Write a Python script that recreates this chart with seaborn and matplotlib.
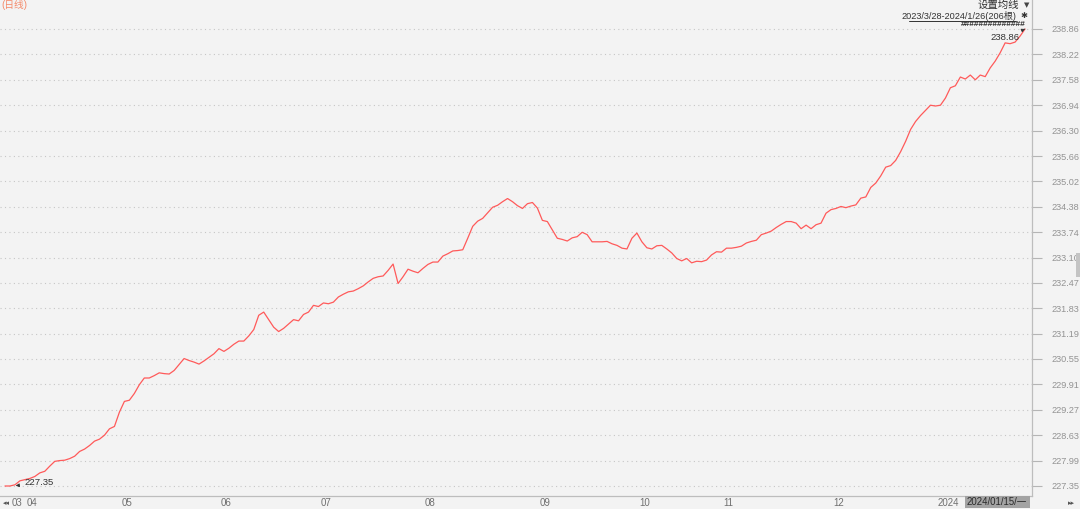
import matplotlib
matplotlib.use("Agg")
import matplotlib.pyplot as plt
import matplotlib.transforms as mtransforms
from matplotlib.patches import Rectangle
import pandas as pd
import seaborn as sns

# 日线收盘价 2023/3/28 - 2024/1/26 (206根)
price = [
    227.35, 227.35, 227.38, 227.48, 227.51, 227.54, 227.59, 227.68, 227.72, 227.85,
    227.97, 227.99, 228.00, 228.04, 228.10, 228.22, 228.28, 228.37, 228.48, 228.53,
    228.63, 228.79, 228.85, 229.21, 229.48, 229.51, 229.68, 229.90, 230.07, 230.07,
    230.13, 230.20, 230.18, 230.17, 230.26, 230.41, 230.56, 230.51, 230.47, 230.42,
    230.50, 230.59, 230.68, 230.81, 230.74, 230.82, 230.92, 231.00, 231.00, 231.13,
    231.29, 231.65, 231.73, 231.54, 231.35, 231.24, 231.32, 231.43, 231.54, 231.51,
    231.67, 231.73, 231.90, 231.87, 231.96, 231.94, 231.98, 232.11, 232.18, 232.24,
    232.26, 232.32, 232.39, 232.49, 232.58, 232.62, 232.64, 232.78, 232.94, 232.45,
    232.62, 232.81, 232.76, 232.72, 232.83, 232.93, 232.99, 232.99, 233.14, 233.20,
    233.27, 233.28, 233.30, 233.59, 233.89, 234.02, 234.09, 234.23, 234.37, 234.42,
    234.51, 234.59, 234.51, 234.41, 234.34, 234.46, 234.49, 234.35, 234.04, 234.01,
    233.80, 233.59, 233.56, 233.52, 233.60, 233.63, 233.74, 233.68, 233.50, 233.50,
    233.50, 233.51, 233.45, 233.41, 233.34, 233.32, 233.59, 233.72, 233.50, 233.35,
    233.32, 233.40, 233.41, 233.32, 233.22, 233.08, 233.02, 233.08, 232.97, 233.01,
    233.00, 233.04, 233.17, 233.25, 233.24, 233.34, 233.34, 233.36, 233.39, 233.47,
    233.51, 233.54, 233.68, 233.72, 233.77, 233.86, 233.94, 234.01, 234.01, 233.97,
    233.83, 233.92, 233.83, 233.93, 233.97, 234.22, 234.31, 234.34, 234.39, 234.36,
    234.40, 234.43, 234.60, 234.63, 234.87, 234.98, 235.16, 235.38, 235.42, 235.55,
    235.77, 236.03, 236.33, 236.53, 236.68, 236.81, 236.94, 236.92, 236.94, 237.12,
    237.38, 237.43, 237.65, 237.60, 237.70, 237.58, 237.70, 237.66, 237.88, 238.05,
    238.26, 238.51, 238.49, 238.53, 238.68, 238.86,
]

# 每月第一个交易日的序号和标签
month_start = [4, 23, 43, 63, 84, 107, 127, 144, 166, 187]
month_label = ["04", "05", "06", "07", "08", "09", "10", "11", "12", "2024"]

ytick_vals = [227.35, 227.99, 228.63, 229.27, 229.91, 230.55, 231.19, 231.83, 232.47,
              233.10, 233.74, 234.38, 235.02, 235.66, 236.30, 236.94, 237.58, 238.22, 238.86]

df = pd.DataFrame({"idx": range(len(price)), "price": price})

bg = "#f3f3f3"
sns.set_style("white", {"axes.facecolor": bg, "figure.facecolor": bg})
plt.rcParams['font.family'] = ['Liberation Sans', 'Noto Sans CJK SC', 'DejaVu Sans']

W, H = 1080, 509
fig = plt.figure(figsize=(W / 100, H / 100), dpi=100)
ax = fig.add_axes([0, 13 / H, 1032 / W, 496 / H])

sns.lineplot(data=df, x="idx", y="price", ax=ax, color="#ff5a5a", linewidth=0.9)

ax.set_xlim(-1.0, 206.4)
ax.set_ylim(227.098, 239.59)
ax.set_xlabel("")
ax.set_ylabel("")

# 右侧价格轴
ax.yaxis.tick_right()
ax.set_yticks(ytick_vals)
ax.set_yticklabels([f"{v:.2f}" for v in ytick_vals])
ax.tick_params(axis="y", length=7, width=0.8, color="#b5b5b5", labelcolor="#939393",
               labelsize=6.6, pad=7)
ax.grid(axis="y", linestyle=(0, (1, 3)), color="#c6c6c6", linewidth=0.8)
ax.grid(axis="x", visible=False)

# 底部月份
ax.set_xticks(month_start)
ax.set_xticklabels([])
ax.tick_params(axis="x", length=6, width=0.8, color="#b5b5b5", direction="out")
trans = mtransforms.blended_transform_factory(ax.transData, ax.transAxes)
for pos, lbl in zip(month_start, month_label):
    ax.text(pos + 0.4, -0.014, lbl, transform=trans, ha="left", va="center",
            fontsize=7, color="#707070")
ax.text(1.3, -0.014, "03", transform=trans, ha="left", va="center", fontsize=7, color="#707070")

for s in ["top", "left"]:
    ax.spines[s].set_visible(False)
for s in ["right", "bottom"]:
    ax.spines[s].set_color("#bdbdbd")
    ax.spines[s].set_linewidth(0.9)

# 最高最低标注
ax.annotate("238.86", xy=(205, 238.86), xytext=(-6, -9), textcoords="offset pixels",
            ha="right", va="center", fontsize=6.8, color="#333333",
            arrowprops=dict(arrowstyle="-|>", color="#333333", lw=0.6, mutation_scale=5))
ax.annotate("227.35", xy=(1.6, 227.35), xytext=(12, 3), textcoords="offset pixels",
            ha="left", va="center", fontsize=6.8, color="#333333",
            arrowprops=dict(arrowstyle="-|>", color="#333333", lw=0.6, mutation_scale=5))

# 顶部文字
fig.text(1 / W, 1 - 5 / H, "(日线)", ha="left", va="center", fontsize=7, color="#f58a6a")
fig.text(1019 / W, 1 - 5 / H, "设置均线", ha="right", va="center", fontsize=7.5, color="#333333")
fig.text(1027 / W, 1 - 5 / H, "▼", ha="center", va="center", fontsize=5, color="#444444",
         family=["DejaVu Sans"])
fig.text(1016 / W, 1 - 16 / H, "2023/3/28-2024/1/26(206根)", ha="right", va="center",
         fontsize=6.6, color="#333333")
fig.add_artist(plt.Line2D([909 / W, 1016 / W], [1 - 21 / H, 1 - 21 / H],
                          transform=fig.transFigure, color="#333333", lw=0.7))
fig.text(1024 / W, 1 - 16 / H, "✱", ha="center", va="center", fontsize=6, color="#333333",
         family=["DejaVu Sans"])
fig.text(1026 / W, 1 - 25 / H, "#" * 14, ha="right", va="center", fontsize=6,
         color="#333333", weight="bold")

# 底部导航
fig.text(3 / W, 6 / H, "◂◂", ha="left", va="center", fontsize=5, color="#555555",
         family=["DejaVu Sans"])
fig.text(1071 / W, 6 / H, "▸▸", ha="center", va="center", fontsize=5, color="#555555",
         family=["DejaVu Sans"])
fig.patches.append(Rectangle((965 / W, 1 / H), 65 / W, 12 / H, transform=fig.transFigure,
                             facecolor="#a3a3a3", edgecolor="none"))
fig.text(967 / W, 7 / H, "2024/01/15/一", ha="left", va="center", fontsize=6.9,
         color="#2a2a2a")
fig.patches.append(Rectangle((1076 / W, 1 - 277 / H), 4 / W, 24 / H, transform=fig.transFigure,
                             facecolor="#c4c4c4", edgecolor="none"))

fig.savefig("out.png", dpi=100, facecolor=bg)
